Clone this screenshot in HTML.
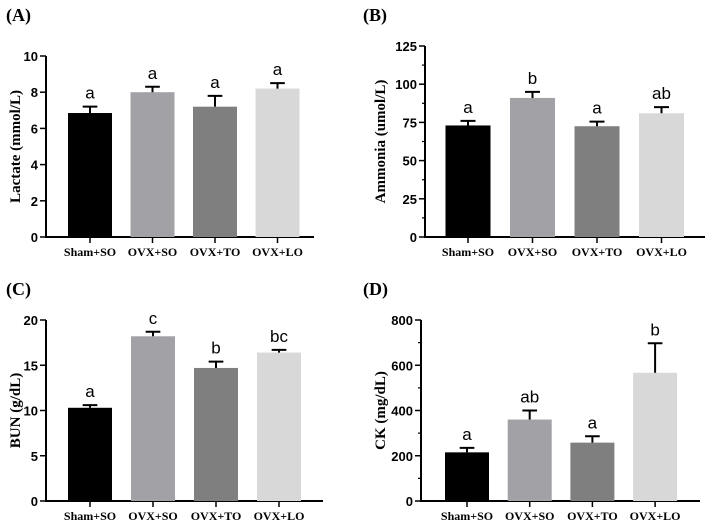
<!DOCTYPE html>
<html><head><meta charset="utf-8"><style>
html,body{margin:0;padding:0;background:#fff;}
svg{display:block;}
.tick{font:bold 13px "Liberation Sans",sans-serif;}
.cat{font:bold 12px "Liberation Serif",serif;}
.ytitle{font:bold 15px "Liberation Serif",serif;}
.panel{font:bold 18px "Liberation Serif",serif;}
.sig{font:17px "Liberation Sans",sans-serif;}
</style></head><body>
<svg id="fig" width="714" height="528" viewBox="0 0 714 528"></svg>
<script>
const categories = ["Sham+SO","OVX+SO","OVX+TO","OVX+LO"];
const colors = ["#000000","#a2a2a6","#7f7f7f","#d8d8d8"];
const lactateValues = [6.85, 8.0, 7.2, 8.2];
const lactateErrors = [0.35, 0.3, 0.6, 0.3];
const lactateLetters = ["a","a","a","a"];
const lactateTicks = [0,2,4,6,8,10];
const ammoniaValues = [73, 91, 72.5, 81];
const ammoniaErrors = [3, 4, 3, 4];
const ammoniaLetters = ["a","b","a","ab"];
const ammoniaTicks = [0,25,50,75,100,125];
const bunValues = [10.3, 18.2, 14.7, 16.4];
const bunErrors = [0.3, 0.5, 0.7, 0.3];
const bunLetters = ["a","c","b","bc"];
const bunTicks = [0,5,10,15,20];
const ckValues = [215, 360, 258, 567];
const ckErrors = [20, 40, 28, 130];
const ckLetters = ["a","ab","a","b"];
const ckTicks = [0,200,400,600,800];

const NS="http://www.w3.org/2000/svg";
const svg=document.getElementById('fig');
function mk(tag,attrs,parent,text){const e=document.createElementNS(NS,tag);for(const k in attrs)e.setAttribute(k,attrs[k]);if(text!==undefined)e.textContent=text;(parent||svg).appendChild(e);return e;}

function panel(o){
  const g=mk('g',{});
  
  
  const max=o.ticks[o.ticks.length-1];
  const y=v=>o.y0-(v/max)*(o.y0-o.yTop);
  const t=mk('text',{x:o.px,y:o.py,class:'panel'},g,o.label);
  
  
  const ya=mk('line',{x1:o.ax,y1:o.yTop,x2:o.ax,y2:o.y0+1,stroke:'#000','stroke-width':2},g);
  
  
  const xa=mk('line',{x1:o.ax-1,y1:o.y0,x2:o.axEnd,y2:o.y0,stroke:'#000','stroke-width':2},g);
  
  
  o.ticks.forEach((tv,i)=>{
    const yy=y(tv);
    mk('line',{x1:o.ax-6,y1:yy,x2:o.ax,y2:yy,stroke:'#000','stroke-width':1.5},g);
    const tl=mk('text',{x:o.ax-8,y:yy+5,class:'tick','text-anchor':'end'},g,tv);
    
    
    if(o.minor && i<o.ticks.length-1){
      const ym=y((tv+o.ticks[i+1])/2);
      mk('line',{x1:o.ax-3,y1:ym,x2:o.ax,y2:ym,stroke:'#000','stroke-width':1.2},g);
    }
  });
  const cy=(o.yTop+o.y0)/2;
  const yt=mk('text',{x:o.tx,y:cy,class:'ytitle','text-anchor':'middle',transform:`rotate(-90 ${o.tx} ${cy})`},g,o.title);
  
  
  const step=o.step,bw=o.bw;
  categories.forEach((c,i)=>{
    const cx=o.b0+step*i;
    const v=o.vals[i],e=o.errs[i];
    const r=mk('rect',{x:cx-bw/2,y:y(v),width:bw,height:o.y0-y(v),fill:colors[i]},g);
    
    
    const ey=y(v+e);
    const el=mk('path',{d:`M${cx} ${y(v)}V${ey}M${cx-bw/6} ${ey}H${cx+bw/6}`,stroke:'#000','stroke-width':2,fill:'none'},g);
    
    
    const s=mk('text',{x:cx,y:ey-8,class:'sig','text-anchor':'middle'},g,o.letters[i]);
    
    
    mk('line',{x1:cx,y1:o.y0,x2:cx,y2:o.y0+6,stroke:'#000','stroke-width':1.5},g);
    const cl=mk('text',{x:cx,y:o.y0+19,class:'cat','text-anchor':'middle'},g,c);
    
    
  });
}
panel({name:'panel-a-lactate',label:'(A)',px:6,py:21,ax:46,axEnd:314,yTop:56,y0:237,b0:90,step:62.5,bw:44,ticks:lactateTicks,vals:lactateValues,errs:lactateErrors,letters:lactateLetters,title:'Lactate (mmol/L)',tx:20,minor:false});
panel({name:'panel-b-ammonia',label:'(B)',px:363,py:21,ax:425,axEnd:705,yTop:46,y0:237,b0:468,step:64.5,bw:45,ticks:ammoniaTicks,vals:ammoniaValues,errs:ammoniaErrors,letters:ammoniaLetters,title:'Ammonia (umol/L)',tx:385,minor:true});
panel({name:'panel-c-bun',label:'(C)',px:6,py:295,ax:46,axEnd:323,yTop:320,y0:501,b0:90,step:63,bw:44,ticks:bunTicks,vals:bunValues,errs:bunErrors,letters:bunLetters,title:'BUN (g/dL)',tx:20,minor:false});
panel({name:'panel-d-ck',label:'(D)',px:363,py:295,ax:421,axEnd:700,yTop:320,y0:501,b0:467,step:62.7,bw:44,ticks:ckTicks,vals:ckValues,errs:ckErrors,letters:ckLetters,title:'CK (mg/dL)',tx:385,minor:true});
</script>
</body></html>
